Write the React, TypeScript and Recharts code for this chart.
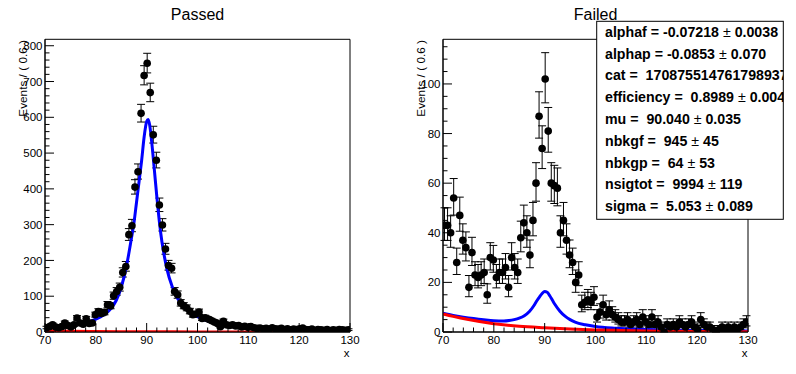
import React from "react";
import { ComposedChart, Scatter, Line, XAxis, YAxis, ErrorBar, ReferenceArea } from "recharts";

const FONT = "'Liberation Sans', Arial, Helvetica, sans-serif";
const X_MIN = 70;
const BIN_WIDTH = 0.6;

const PASSED_COUNTS = [
  12, 15, 20, 14, 12, 15, 25, 18, 14, 20,
  39, 25, 22, 37, 24, 25, 48, 57, 52, 55,
  76, 73, 101, 113, 125, 166, 183, 272, 297, 405,
  448, 611, 717, 751, 669, 551, 480, 355, 299, 232,
  186, 178, 113, 104, 81, 73, 67, 58, 48, 50,
  56, 38, 40, 36, 32, 28, 24, 15, 30, 20,
  18, 20, 17, 18, 14, 16, 13, 15, 12, 10,
  11, 9, 10, 8, 12, 9, 8, 10, 7, 9,
  6, 8, 7, 9, 11, 7, 6, 8, 5, 7,
  6, 5, 7, 4, 6, 5, 7, 6, 5, 6,
];

const FAILED_COUNTS = [
  43, 43, 40, 54, 28, 47, 37, 34, 18, 32,
  23, 22, 23, 24, 15, 30, 29, 22, 24, 24,
  26, 18, 30, 26, 24, 38, 44, 40, 31, 45,
  60, 87, 74, 102, 81, 60, 59, 58, 40, 45,
  37, 31, 28, 20, 23, 11, 12, 13, 12, 14,
  6, 8, 11, 7, 9, 7, 6, 5, 4, 4,
  5, 3, 4, 5, 3, 6, 4, 3, 6, 3,
  4, 2, 0, 3, 2, 3, 2, 4, 3, 2,
  3, 4, 2, 1, 5, 3, 2, 2, 1, 0,
  1, 2, 1, 2, 1, 2, 1, 2, 3, 4,
];

const PASSED_FIT_X = [70, 72, 74, 76, 78, 80, 81, 82, 83, 84, 85, 86, 87, 87.5, 88, 88.5, 89, 89.5, 90, 90.3, 90.6, 91, 91.5, 92, 92.5, 93, 93.5, 94, 95, 96, 97, 98, 99, 100, 102, 104, 106, 108, 110, 115, 120, 125, 130];
const PASSED_FIT_Y = [12, 14, 17, 21, 27, 36, 43, 52, 66, 88, 125, 182, 262, 305, 362, 420, 478, 545, 588, 594, 578, 530, 455, 378, 308, 252, 210, 175, 128, 96, 76, 62, 51, 43, 31, 23, 18, 14, 11, 7, 5, 4, 3];
const PASSED_BKG_X = [70, 75, 80, 85, 90, 95, 100, 110, 120, 130];
const PASSED_BKG_Y = [3.3, 2.1, 1.4, 0.9, 0.6, 0.4, 0.25, 0.1, 0.04, 0.02];

const FAILED_FIT_X = [70, 72, 74, 76, 78, 80, 82, 83, 84, 85, 86, 87, 88, 88.5, 89, 89.5, 90, 90.5, 91, 91.5, 92, 93, 94, 95, 96, 98, 100, 104, 110, 120, 130];
const FAILED_FIT_Y = [7.6, 6.7, 6.0, 5.4, 4.9, 4.5, 4.4, 4.6, 5.0, 5.6, 6.6, 8.3, 11.0, 12.7, 14.2, 15.5, 16.3, 16.0, 14.6, 12.9, 11.2, 8.4, 6.4, 5.0, 4.0, 2.9, 2.2, 1.5, 1.0, 0.6, 0.4];
const FAILED_BKG_X = [70, 72, 75, 80, 85, 90, 95, 100, 105, 110, 115, 120, 125, 130];
const FAILED_BKG_Y = [7.3, 6.3, 5.0, 3.3, 2.3, 1.7, 1.2, 0.85, 0.6, 0.42, 0.3, 0.2, 0.15, 0.1];

const X_TICKS = [70, 72, 74, 76, 78, 80, 82, 84, 86, 88, 90, 92, 94, 96, 98, 100, 102, 104, 106, 108, 110, 112, 114, 116, 118, 120, 122, 124, 126, 128, 130];
const X_MAJOR = [70, 80, 90, 100, 110, 120, 130];
const PASSED_Y_TICKS = [0, 20, 40, 60, 80, 100, 120, 140, 160, 180, 200, 220, 240, 260, 280, 300, 320, 340, 360, 380, 400, 420, 440, 460, 480, 500, 520, 540, 560, 580, 600, 620, 640, 660, 680, 700, 720, 740, 760, 780, 800];
const PASSED_Y_MAJOR = [0, 100, 200, 300, 400, 500, 600, 700, 800];
const FAILED_Y_TICKS = [0, 5, 10, 15, 20, 25, 30, 35, 40, 45, 50, 55, 60, 65, 70, 75, 80, 85, 90, 95, 100, 105, 110, 115];
const FAILED_Y_MAJOR = [0, 20, 40, 60, 80, 100];

const STAT_NAMES = ["alphaf = -0.07218", "alphap = -0.0853", "cat =  1708755147617989373", "efficiency =  0.8989", "mu =  90.040", "nbkgf =  945", "nbkgp =  64", "nsigtot =  9994", "sigma =  5.053"];
const STAT_ERRORS = ["0.0038", "0.070", "", "0.0042", "0.035", "45", "53", "119", "0.089"];

const W = 398;
const H = 374;
const Y_AXIS_W = 30;
const X_AXIS_H = 20;
const MARGIN = { top: 39.3, right: 48, bottom: 42 - X_AXIS_H, left: 45 - Y_AXIS_W };

function histPoints(counts: number[]) {
  return counts.map((n, i) => {
    const r = Math.sqrt(n + 0.25);
    return { x: X_MIN + BIN_WIDTH * (i + 0.5), y: n, err: [n === 0 ? 0 : r - 0.5, r + 0.5] };
  });
}

function curve(xs: number[], ys: number[]) {
  return xs.map((x, i) => ({ x, y: ys[i] }));
}

function XTick(props: any) {
  const { x, y, payload } = props;
  const v = payload.value;
  const major = X_MAJOR.includes(v);
  return (
    <g>
      <line x1={x} x2={x} y1={y} y2={y - (major ? 9 : 4.5)} stroke="#000" strokeWidth={1} />
      {major && (
        <text x={x} y={y + 11.5} textAnchor="middle" fontSize={11.5} fontFamily={FONT} fill="#000">
          {v}
        </text>
      )}
    </g>
  );
}

const makeYTick = (majors: number[]) =>
  function YTick(props: any) {
    const { x, y, payload } = props;
    const v = payload.value;
    const major = majors.includes(v);
    return (
      <g>
        <line x1={x} x2={x + (major ? 9 : 4.5)} y1={y} y2={y} stroke="#000" strokeWidth={1} />
        {major && (
          <text x={x - 2.5} y={y + 4.1} textAnchor="end" fontSize={11.5} fontFamily={FONT} fill="#000">
            {v}
          </text>
        )}
      </g>
    );
  };

const Marker = (props: any) => {
  const { cx, cy } = props;
  if (cx == null || cy == null) return null;
  return <circle cx={cx} cy={cy} r={3.8} fill="#000" />;
};

function Panel(props: {
  left: number;
  title: string;
  counts: number[];
  fitX: number[];
  fitY: number[];
  bkgX: number[];
  bkgY: number[];
  yMax: number;
  yTicks: number[];
  yMajor: number[];
  stats?: boolean;
}) {
  const pts = histPoints(props.counts);
  const fit = curve(props.fitX, props.fitY);
  const bkg = curve(props.bkgX, props.bkgY);
  const YTick = makeYTick(props.yMajor);
  return (
    <div style={{ position: "absolute", left: props.left, top: 0, width: W, height: H }}>
      <ComposedChart width={W} height={H} margin={MARGIN}>
        <XAxis
          dataKey="x"
          type="number"
          domain={[70, 130]}
          ticks={X_TICKS}
          interval={0}
          allowDataOverflow
          height={X_AXIS_H}
          tickSize={0}
          tickMargin={0}
          axisLine={{ stroke: "#000" }}
          tickLine={false}
          tick={(p: any) => <XTick {...p} />}
        />
        <YAxis
          type="number"
          domain={[0, props.yMax]}
          ticks={props.yTicks}
          interval={0}
          allowDataOverflow
          width={Y_AXIS_W}
          tickSize={0}
          tickMargin={0}
          axisLine={{ stroke: "#000" }}
          tickLine={false}
          tick={(p: any) => <YTick {...p} />}
        />
        <ReferenceArea x1={70} x2={130} y1={0} y2={props.yMax} fill="none" stroke="#000" strokeWidth={1} />
        <Scatter data={pts} dataKey="y" shape={Marker} isAnimationActive={false}>
          <ErrorBar dataKey="err" direction="y" width={4} stroke="#000" strokeWidth={1} isAnimationActive={false} />
        </Scatter>
        <Line data={fit} dataKey="y" type="monotone" stroke="#0000ff" strokeWidth={3} dot={false} isAnimationActive={false} />
        <Line data={bkg} dataKey="y" type="monotone" stroke="#ff0000" strokeWidth={3} dot={false} isAnimationActive={false} />
      </ComposedChart>
      <svg width={W} height={H} style={{ position: "absolute", left: 0, top: 0, pointerEvents: "none" }}>
        <text x={197.5} y={20} textAnchor="middle" fontSize={16} fontFamily={FONT} fill="#000">
          {props.title}
        </text>
        <text transform="translate(26.5,40) rotate(-90)" textAnchor="end" fontSize={11.8} fontFamily={FONT} fill="#000">
          Events / ( 0.6 )
        </text>
        <text x={349.5} y={356.5} textAnchor="end" fontSize={11.5} fontFamily={FONT} fill="#000">
          x
        </text>
        {props.stats && (
          <g>
            <defs>
              <clipPath id="statclip">
                <rect x={198.7} y={21.3} width={186.6} height={198} />
              </clipPath>
            </defs>
            <rect x={198.7} y={21.3} width={186.6} height={198} fill="#fff" stroke="#000" strokeWidth={1} />
            <g clipPath="url(#statclip)">
              {STAT_NAMES.map((name, i) => (
                <text
                  key={i}
                  x={207}
                  y={36.8 + i * 21.8}
                  fontSize={14.2}
                  fontWeight="bold"
                  fontFamily={FONT}
                  fill="#000"
                  style={{ whiteSpace: "pre" }}
                >
                  {name}
                  {STAT_ERRORS[i] !== "" && (
                    <>
                      <tspan fontWeight="normal">{" ± "}</tspan>
                      {STAT_ERRORS[i]}
                    </>
                  )}
                </text>
              ))}
            </g>
          </g>
        )}
      </svg>
    </div>
  );
}

export default function App() {
  return (
    <div style={{ position: "absolute", left: 0, top: 0, width: 796, height: 374, background: "#fff", overflow: "hidden" }}>
      <Panel
        left={0}
        title="Passed"
        counts={PASSED_COUNTS}
        fitX={PASSED_FIT_X}
        fitY={PASSED_FIT_Y}
        bkgX={PASSED_BKG_X}
        bkgY={PASSED_BKG_Y}
        yMax={818}
        yTicks={PASSED_Y_TICKS}
        yMajor={PASSED_Y_MAJOR}
      />
      <Panel
        left={398}
        title="Failed"
        counts={FAILED_COUNTS}
        fitX={FAILED_FIT_X}
        fitY={FAILED_FIT_Y}
        bkgX={FAILED_BKG_X}
        bkgY={FAILED_BKG_Y}
        yMax={118}
        yTicks={FAILED_Y_TICKS}
        yMajor={FAILED_Y_MAJOR}
        stats
      />
    </div>
  );
}
